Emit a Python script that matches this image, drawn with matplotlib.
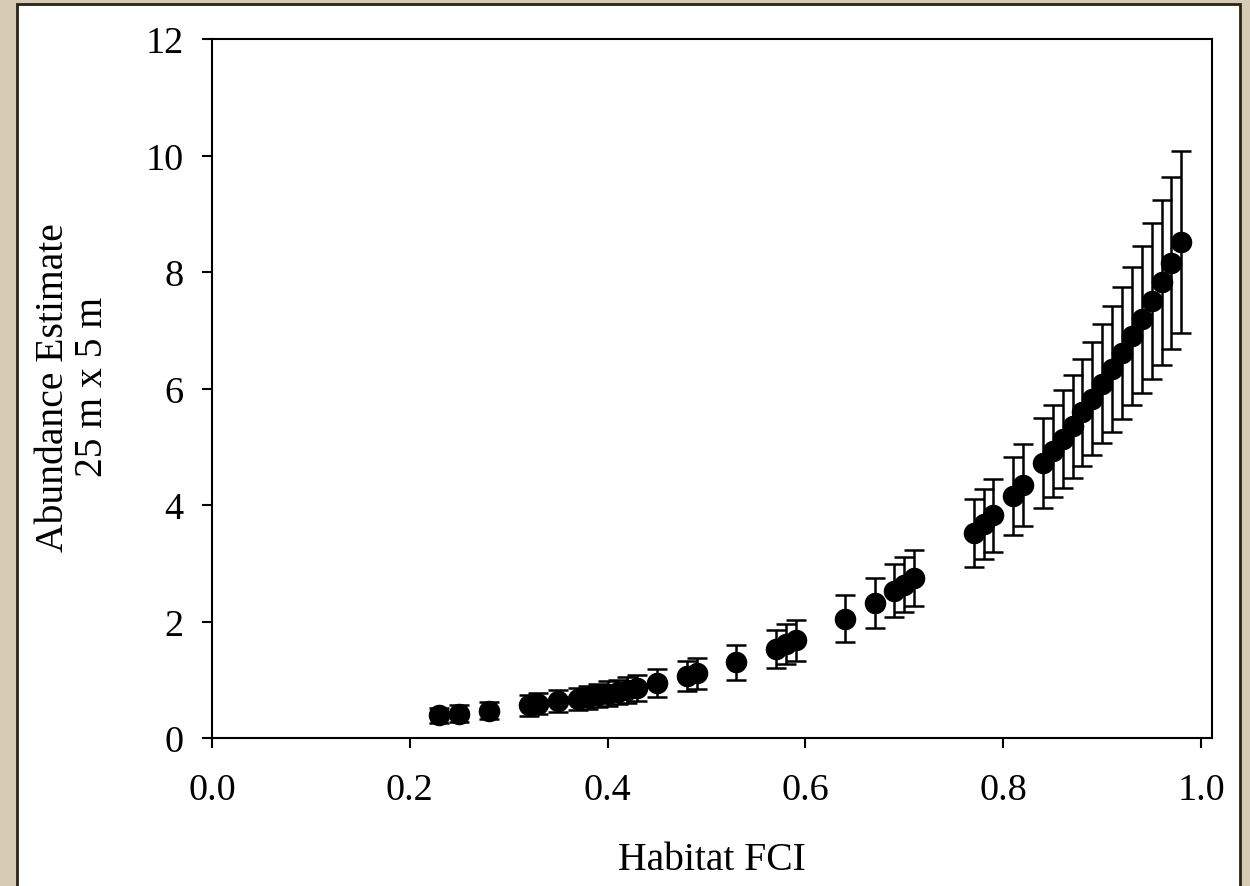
import matplotlib
matplotlib.use("Agg")
import matplotlib.pyplot as plt
from matplotlib.patches import Rectangle

# ---- data ----
habitat_fci = [0.23, 0.25, 0.28, 0.32, 0.33, 0.35, 0.37, 0.38, 0.39, 0.40,
               0.41, 0.42, 0.43, 0.45, 0.48, 0.49, 0.53, 0.57, 0.58, 0.59,
               0.64, 0.67, 0.69, 0.70, 0.71, 0.77, 0.78, 0.79, 0.81, 0.82,
               0.84, 0.85, 0.86, 0.87, 0.88, 0.89, 0.90, 0.91, 0.92, 0.93,
               0.94, 0.95, 0.96, 0.97, 0.98]
abundance = [0.39, 0.42, 0.47, 0.56, 0.59, 0.63, 0.67, 0.70, 0.73, 0.76,
             0.79, 0.82, 0.86, 0.94, 1.06, 1.11, 1.30, 1.53, 1.61, 1.68,
             2.05, 2.32, 2.53, 2.63, 2.74, 3.52, 3.67, 3.82, 4.16, 4.34,
             4.72, 4.93, 5.14, 5.35, 5.59, 5.82, 6.08, 6.33, 6.61, 6.90,
             7.19, 7.50, 7.82, 8.15, 8.51]
abundance_err = [0.13, 0.14, 0.15, 0.18, 0.18, 0.19, 0.19, 0.20, 0.20, 0.21,
                 0.21, 0.22, 0.22, 0.24, 0.26, 0.27, 0.30, 0.33, 0.34, 0.35,
                 0.40, 0.43, 0.46, 0.47, 0.48, 0.58, 0.60, 0.63, 0.67, 0.70,
                 0.77, 0.79, 0.84, 0.88, 0.92, 0.97, 1.02, 1.08, 1.13, 1.19,
                 1.26, 1.34, 1.41, 1.48, 1.56]

x_ticks = [0.0, 0.2, 0.4, 0.6, 0.8, 1.0]
x_tick_labels = ["0.0", "0.2", "0.4", "0.6", "0.8", "1.0"]
y_ticks = [0, 2, 4, 6, 8, 10, 12]
y_tick_labels = ["0", "2", "4", "6", "8", "10", "12"]

plt.rcParams['font.family'] = ['Liberation Serif', 'DejaVu Serif']

W, H = 1250, 887
fig = plt.figure(figsize=(W / 100, H / 100), dpi=100)
fig.patch.set_facecolor('#d6ccb6')

# white inner panel with dark frame (behind the axes)
panel = Rectangle((17 / W, -0.05), (1240 - 17) / W, 1 - 5 / H + 0.05,
                  transform=fig.transFigure, facecolor='white',
                  edgecolor='#2b2416', linewidth=2.0, zorder=-5)
fig.patches.append(panel)

ax = fig.add_axes([212 / W, 1 - 739 / H, 1000 / W, (739 - 40) / H])
ax.set_facecolor('white')
ax.set_zorder(1)

ax.errorbar(habitat_fci, abundance, yerr=abundance_err, fmt='none',
            ecolor='black', elinewidth=1.8, capsize=7.4, capthick=1.8,
            zorder=2)
ax.plot(habitat_fci, abundance, linestyle='none', marker='o',
        markersize=14.5, color='black', zorder=3)

ax.set_xlim(0.0, 1.011)
ax.set_ylim(0, 12)
ax.set_xticks(x_ticks)
ax.set_xticklabels(x_tick_labels)
ax.set_yticks(y_ticks)
ax.set_yticklabels(y_tick_labels)

for s in ax.spines.values():
    s.set_linewidth(1.5)
ax.tick_params(axis='both', direction='out', length=7.5, width=1.5,
               labelsize=27.5, colors='black')
ax.tick_params(axis='x', pad=17)
ax.tick_params(axis='y', pad=13)

ax.set_xlabel("Habitat FCI", fontsize=28.5)
ax.xaxis.set_label_coords(0.5, -0.147)
ax.set_ylabel("Abundance Estimate\n25 m x 5 m", fontsize=28.5,
              multialignment='center', linespacing=1.08)
ax.yaxis.set_label_coords(-0.101, 0.503)

fig.savefig("out.png", dpi=100, facecolor=fig.get_facecolor())
